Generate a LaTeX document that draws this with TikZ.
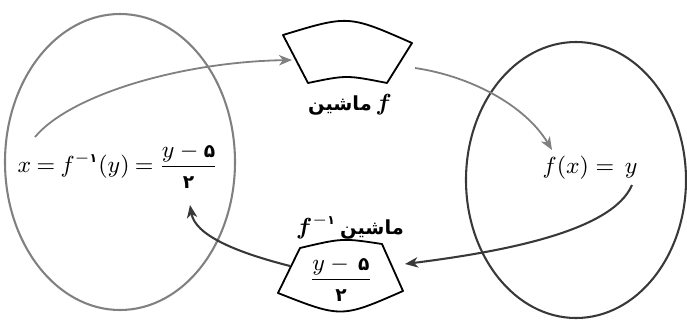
\documentclass[tikz,border=0pt]{standalone}
\usepackage{amsmath}
\usepackage{fontspec}
\newfontfamily\pfont[Script=Arabic]{DejaVu Sans}
\TeXXeTstate=1
\usetikzlibrary{arrows.meta}
\definecolor{softgray}{gray}{0.5}
\definecolor{darkgray}{gray}{0.22}
\newcommand{\fa}[1]{\text{\pfont\bfseries\scalebox{0.8}{#1}}}
\newcommand{\faword}{{\pfont\bfseries\fontsize{7.5}{9}\selectfont\beginR ماشین\endR}}

\begin{document}
\begin{tikzpicture}[x=0.0136cm,y=-0.0136cm,font=\small,
  tip/.style={-{Stealth[length=5pt,width=4pt,inset=1.5pt]}},
  lightarrow/.style={tip,softgray,line width=0.7pt},
  darkarrow/.style={tip,darkgray,line width=0.8pt},
  machine/.style={black,line width=0.7pt,line join=round}]
\useasboundingbox (0,0) rectangle (687,321);
\draw[softgray,line width=0.8pt] (120,162) ellipse [x radius=115,y radius=148];
\draw[darkgray,line width=0.8pt] (576,180) ellipse [x radius=110,y radius=138];
\draw[machine] (283,35) .. controls (348.5,15) .. (412,43) -- (387,83)
  .. controls (346.5,75) .. (308,83) -- cycle;
\draw[machine] (300,248) .. controls (342.5,238) .. (382,244) -- (403,291)
  .. controls (341.5,318) .. (278,293) -- cycle;
\node (xexpr) at (118,166) {\thickmuskip=4mu $x=f^{-\fa{۱}}(y)=\dfrac{y-\fa{۵}}{\fa{۲}}$};
\node (fxy) at (590,168) {$f(x)=\,y$};
\node (labf) at (350,105) {\faword\,$\boldsymbol{f}$};
\node (labinv) at (350,227) {$\boldsymbol{f}^{-\fa{۱}}$\,\faword};
\node (invfrac) at (341,279) {$\dfrac{y-\,\fa{۵}}{\fa{۲}}$};
\coordinate (xs) at (35,137);
\coordinate (mfin) at (292,60);
\coordinate (mfout) at (415,68);
\coordinate (fin) at (552,150);
\coordinate (ys) at (632,185);
\coordinate (minvin) at (405,264);
\coordinate (minvout) at (290,266);
\coordinate (xin) at (190,205);
\draw[lightarrow] (xs) .. controls (70,95) and (180,62) .. (mfin);
\draw[lightarrow] (mfout) .. controls (470,76) and (525,105) .. (fin);
\draw[darkarrow] (ys) .. controls (612,232) and (500,252) .. (minvin);
\draw[darkarrow] (minvout) .. controls (235,252) and (195,235) .. (xin);
\end{tikzpicture}
\end{document}
